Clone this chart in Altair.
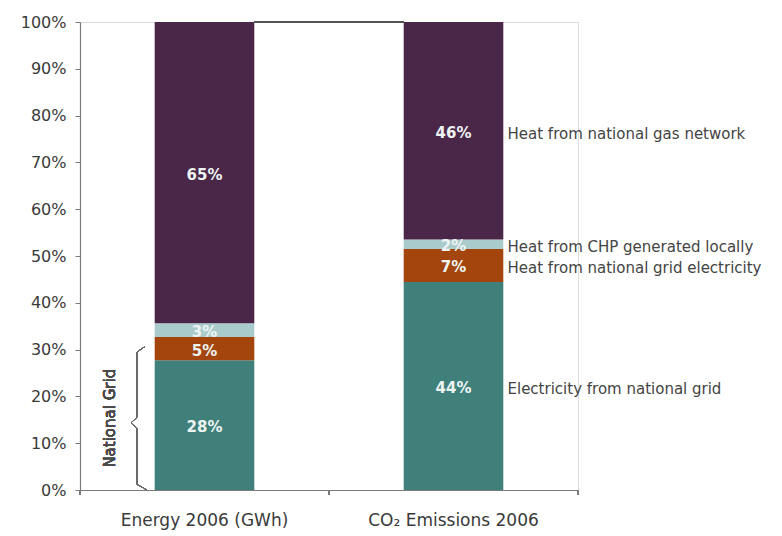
import altair as alt
import pandas as pd

# Share of each energy use in the two stacked columns (percent)
categories = ["Energy 2006 (GWh)", "CO₂ Emissions 2006"]
components = [
    "Electricity from national grid",
    "Heat from national grid electricity",
    "Heat from CHP generated locally",
    "Heat from national gas network",
]
energy_values = [28, 5, 3, 65]
co2_values = [44, 7, 2, 46]
colors = ["#3f807b", "#a3450d", "#a9cbcb", "#4a2748"]

rows = []
for cat, vals in zip(categories, [energy_values, co2_values]):
    for i, (comp, v) in enumerate(zip(components, vals)):
        rows.append({"cat": cat, "comp": comp, "order": i, "value": v,
                     "label": f"{v}%"})
df = pd.DataFrame(rows)

W, H = 498, 468
PAD_INNER, PAD_OUTER = 0.6, 0.3
FONT = "DejaVu Sans"

x_enc = alt.X("cat:N", sort=categories, title=None,
              scale=alt.Scale(paddingInner=PAD_INNER, paddingOuter=PAD_OUTER),
              axis=alt.Axis(ticks=False, labelAngle=0, labelFontSize=17,
                            labelColor="#3a3a3a", labelFont=FONT, labelPadding=22,
                            domainColor="#7a7a7a", domainWidth=1.2))
y_scale = alt.Scale(domain=[0, 1], nice=False)

base = alt.Chart(df).transform_stack(
    stack="value", groupby=["cat"], as_=["lo", "hi"],
    offset="normalize", sort=[alt.SortField("order", "ascending")]
).transform_calculate(mid="(datum.lo + datum.hi) / 2")

bars = base.mark_bar().encode(
    x=x_enc,
    y=alt.Y("lo:Q", scale=y_scale, title=None,
            axis=alt.Axis(format="%", values=[i / 10 for i in range(11)],
                          grid=False, tickSize=5, tickColor="#7a7a7a",
                          domainColor="#7a7a7a", domainWidth=1.2,
                          labelFontSize=16, labelColor="#3a3a3a",
                          labelFont=FONT, labelPadding=9)),
    y2="hi:Q",
    color=alt.Color("comp:N", sort=components,
                    scale=alt.Scale(domain=components, range=colors),
                    legend=None),
)

inbar = base.mark_text(fontSize=15, fontWeight="bold", font=FONT, dy=2,
                       color="#eef4f4").encode(
    x=alt.X("cat:N", sort=categories),
    y=alt.Y("mid:Q", scale=y_scale),
    text="label:N",
)

side = base.transform_filter(alt.datum.cat == categories[1]).mark_text(
    align="left", dx=54, fontSize=15, font=FONT, color="#444444", dy=3
).encode(
    x=alt.X("cat:N", sort=categories),
    y=alt.Y("mid:Q", scale=y_scale),
    text="comp:N",
)

# Band geometry for the connector line between column tops
step = W / (len(categories) - PAD_INNER + 2 * PAD_OUTER)
band = step * (1 - PAD_INNER)
left_end = step * PAD_OUTER + band
right_start = step * PAD_OUTER + step

top_line = alt.Chart(df).mark_rule(color="#555555", strokeWidth=1.5).encode(
    x=alt.value(left_end), x2=alt.value(right_start), y=alt.datum(1.0)
)

# Small ticks on the category axis at the band boundaries
tick_layers = [
    alt.Chart(df).mark_rule(color="#7a7a7a", strokeWidth=1.2).encode(
        x=alt.value(px), y=alt.value(H), y2=alt.value(H + 5))
    for px in [0, step, W]
]

# Brace grouping the two national-grid components on the energy column
grid_share = (energy_values[0] + energy_values[1]) / sum(energy_values)
top_b = grid_share - 0.02
mid_b = top_b / 2 - 0.01
bx = 57
segments = [
    (bx, bx + 8, top_b - 0.012, top_b),
    (bx, bx, mid_b + 0.012, top_b - 0.012),
    (bx, bx - 6, mid_b + 0.012, mid_b),
    (bx - 6, bx, mid_b, mid_b - 0.012),
    (bx, bx, 0.012, mid_b - 0.012),
    (bx, bx + 10, 0.012, 0.0),
]
brace_layers = [
    alt.Chart(df).mark_rule(color="#6a6a6a", strokeWidth=1).encode(
        x=alt.value(x0), x2=alt.value(x1), y=alt.datum(y0), y2=alt.datum(y1))
    for x0, x1, y0, y1 in segments
]
brace_label = alt.Chart(df).mark_text(
    angle=270, fontSize=15, font=FONT, fontWeight="normal", color="#4a4a4a"
).encode(x=alt.value(30), y=alt.datum(top_b / 2), text=alt.value("National Grid"))

chart = alt.layer(
    bars, inbar, side, top_line, *tick_layers, *brace_layers, brace_label
).properties(
    width=W, height=H,
    autosize=alt.AutoSizeParams(type="none"),
    padding={"left": 80, "top": 22, "right": 204, "bottom": 46},
).configure_view(stroke=None).configure(background="white")

chart.save("out.html", embed_options={"renderer": "svg", "actions": False})
